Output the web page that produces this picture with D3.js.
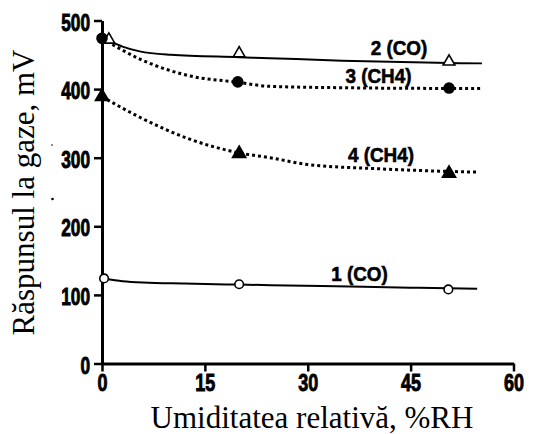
<!DOCTYPE html>
<html><head><meta charset="utf-8">
<script src="https://cdn.jsdelivr.net/npm/d3@7"></script>
<style>
html,body{margin:0;padding:0;background:#fff;}
svg{display:block;}
.tick text{font-family:"Liberation Sans",Arial,sans-serif;font-weight:bold;font-size:23px;fill:#000;stroke:#000;stroke-width:0.9px;}
.slab{font-family:"Liberation Sans",Arial,sans-serif;font-weight:bold;font-size:21px;fill:#000;stroke:#000;stroke-width:0.6px;}
</style></head>
<body>
<svg id="chart" width="533" height="434"></svg>
<script>
// ---- data ----
const xTicks = [0, 15, 30, 45, 60];
const yTicks = [0, 100, 200, 300, 400, 500];
const xTitle = "Umiditatea relativă, %RH";
const yTitle = "Răspunsul la gaze, mV";

const s1Name = "1 (CO)";
const s1X = [0.3, 20, 50.5];
const s1Y = [124, 115.5, 108];
const s1FitX = [0.3, 3, 6, 12, 20, 32, 45, 54.7];
const s1FitY = [123.5, 120, 118, 116.5, 115, 113, 110.5, 109];

const s2Name = "2 (CO)";
const s2X = [1, 20, 50.6];
const s2Y = [472, 452, 440];
const s2FitX = [0.9, 3, 5.5, 10, 20, 24.5, 35, 50.6, 55.4];
const s2FitY = [471, 462, 455, 450, 446.5, 445, 441.5, 438, 437.5];

const s3Name = "3 (CH4)";
const s3X = [0, 19.8, 50.6];
const s3Y = [474, 410.5, 401.5];
const s3FitX = [0, 5.7, 12.9, 19.8, 24.5, 35, 50.6, 55.4];
const s3FitY = [474, 443, 419, 410, 404, 402, 401, 401];

const s4Name = "4 (CH4)";
const s4X = [0, 20, 50.6];
const s4Y = [389, 306, 277];
const s4FitX = [0, 5.5, 12.8, 20, 24.5, 30, 40, 50.6, 54.7];
const s4FitY = [389, 359, 327, 307, 300, 290, 284, 280, 279];

// ---- layout ----
const svg = d3.select("#chart");
const x = d3.scaleLinear().domain([0, 60]).range([102, 513.5]);
const y = d3.scaleLinear().domain([0, 500]).range([363.5, 20.5]);
const tickSX = 0.75, labSX = 0.9;

const series = [
  {name:s1Name, xs:s1X, ys:s1Y, fx:s1FitX, fy:s1FitY, dotted:false, sym:"circle", fill:"#fff", lx:359.5, ly:281.5},
  {name:s2Name, xs:s2X, ys:s2Y, fx:s2FitX, fy:s2FitY, dotted:false, sym:"triangle", fill:"#fff", lx:399, ly:55},
  {name:s3Name, xs:s3X, ys:s3Y, fx:s3FitX, fy:s3FitY, dotted:true, sym:"circle", fill:"#000", lx:378.5, ly:83.5},
  {name:s4Name, xs:s4X, ys:s4Y, fx:s4FitX, fy:s4FitY, dotted:true, sym:"triangle", fill:"#000", lx:381, ly:162}
];

const line = d3.line().x(d => x(d[0])).y(d => y(d[1])).curve(d3.curveMonotoneX);

series.forEach(s => {
  const pts = s.fx.map((v, i) => [v, s.fy[i]]);
  svg.append("path").attr("d", line(pts)).attr("fill", "none").attr("stroke", "#000")
    .attr("stroke-width", s.dotted ? 3 : 2)
    .attr("stroke-dasharray", s.dotted ? "3,3" : null);
});

// axes
const yAxis = svg.append("g").attr("transform", `translate(${x(0)},0)`)
  .call(d3.axisLeft(y).tickValues(yTicks).tickSize(8).tickSizeOuter(0).tickPadding(4));
const xAxis = svg.append("g").attr("transform", `translate(0,${y(0)})`)
  .call(d3.axisBottom(x).tickValues(xTicks).tickSize(8).tickSizeOuter(0).tickPadding(2));
[yAxis, xAxis].forEach(g => {
  g.select(".domain").attr("stroke", "#000").attr("stroke-width", 3);
  g.selectAll(".tick line").attr("stroke", "#000").attr("stroke-width", 2.5);
});
yAxis.selectAll(".tick text").attr("dy", "0.42em")
  .attr("x", -12 / tickSX).attr("transform", `scale(${tickSX},1)`);
xAxis.selectAll(".tick text").attr("transform", `scale(${tickSX},1)`).style("font-size", "24px");

// markers
series.forEach(s => {
  const pts = s.xs.map((v, i) => [v, s.ys[i]]);
  if (s.sym === "circle") {
    svg.selectAll(null).data(pts).enter().append("circle")
      .attr("cx", d => x(d[0])).attr("cy", d => y(d[1]))
      .attr("r", s.fill === "#000" ? 5 : 4.3)
      .attr("fill", s.fill).attr("stroke", "#000").attr("stroke-width", 1.6);
  } else {
    const tri = d3.symbol().type(d3.symbolTriangle).size(s.fill === "#000" ? 75 : 60);
    svg.selectAll(null).data(pts).enter().append("path")
      .attr("d", tri())
      .attr("transform", d => `translate(${x(d[0])},${y(d[1])})`)
      .attr("fill", s.fill).attr("stroke", "#000").attr("stroke-width", 1.6);
  }
  svg.append("text").attr("class", "slab").attr("x", s.lx / labSX).attr("y", s.ly)
    .attr("text-anchor", "middle")
    .attr("transform", `scale(${labSX},1)`)
    .text(s.name);
});

// axis titles
svg.append("text").attr("x", 312).attr("y", 428).attr("text-anchor", "middle")
  .style("font-family", '"Liberation Serif","Times New Roman",serif').style("font-size", "31px")
  .text(xTitle);
svg.append("text").attr("transform", "translate(34,192.5) rotate(-90)").attr("text-anchor", "middle")
  .style("font-family", '"Liberation Serif","Times New Roman",serif').style("font-size", "31px")
  .text(yTitle);

// stray specks visible in the original scan
svg.append("circle").attr("cx", 52).attr("cy", 145).attr("r", 0.8).attr("fill", "#000");
svg.append("circle").attr("cx", 52.5).attr("cy", 199).attr("r", 1.3).attr("fill", "#000");
</script>
</body></html>
